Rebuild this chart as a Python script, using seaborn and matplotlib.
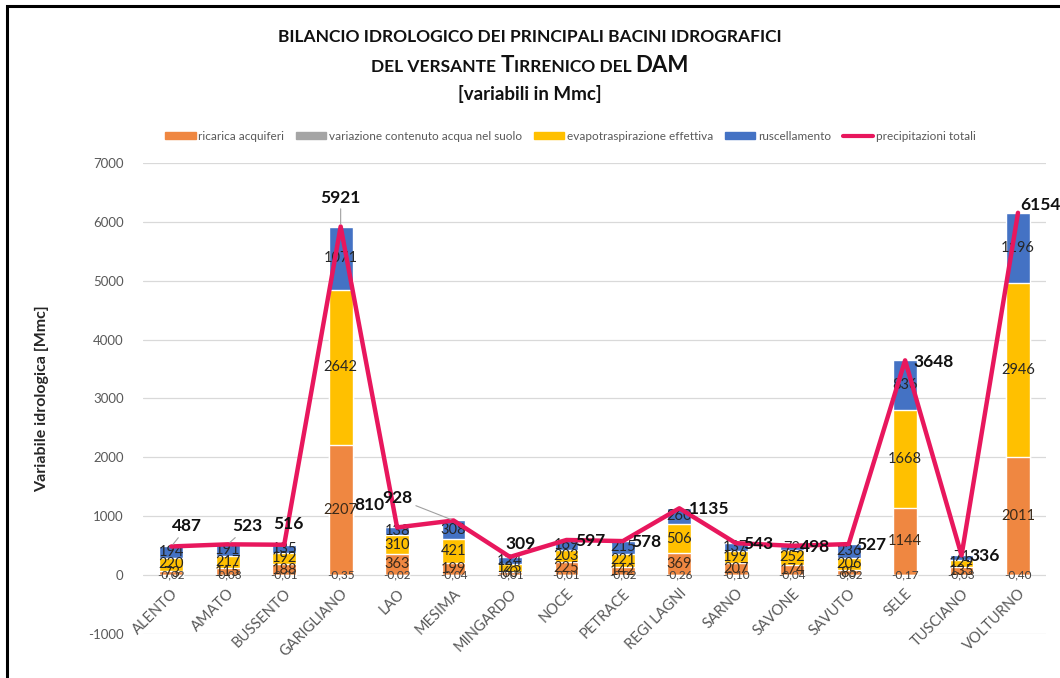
import numpy as np
import pandas as pd
import matplotlib
matplotlib.use("Agg")
import matplotlib.pyplot as plt
import seaborn as sns
from matplotlib.patches import Patch, Rectangle
from matplotlib.lines import Line2D

# data (Mmc)
bacini = ["ALENTO", "AMATO", "BUSSENTO", "GARIGLIANO", "LAO", "MESIMA", "MINGARDO", "NOCE",
          "PETRACE", "REGI LAGNI", "SARNO", "SAVONE", "SAVUTO", "SELE", "TUSCIANO", "VOLTURNO"]
ricarica = [73, 115, 188, 2207, 363, 199, 60, 225, 142, 369, 207, 174, 85, 1144, 135, 2011]
variazione = [-0.02, -0.03, -0.01, -0.35, -0.02, -0.04, -0.01, -0.01, -0.02, -0.26, -0.10, -0.04,
              -0.02, -0.17, -0.03, -0.40]
evapotrasp = [220, 217, 192, 2642, 310, 421, 125, 203, 221, 506, 199, 252, 206, 1668, 129, 2946]
ruscellamento = [194, 191, 135, 1071, 138, 308, 124, 169, 215, 260, 137, 72, 236, 836, 71, 1196]
precipitazioni = [487, 523, 516, 5921, 810, 928, 309, 597, 578, 1135, 543, 498, 527, 3648, 336, 6154]

# label offsets (pixels) for the precipitation labels
lab_dx = [16, 20, 4, 0, -28, -56, 11, 24, 23, 30, 23, 23, 23, 28, 23, 22]
lab_dy = [20, 18, 21, 29, 22, 22, 13, -1, -1, -1, -1, -1, -1, -2, -1, 8]
leader = [True, True, False, True, False, True] + [False] * 10

df = pd.DataFrame({"bacino": bacini, "ricarica": ricarica, "variazione": variazione,
                   "evapo": evapotrasp, "rusc": ruscellamento, "prec": precipitazioni})
df["c_ric"] = df["ricarica"]
df["c_evap"] = df["ricarica"] + df["evapo"]
df["c_rusc"] = df["c_evap"] + df["rusc"]

C_RIC = "#EF8741"
C_VAR = "#A5A5A5"
C_EVA = "#FFC000"
C_RUS = "#4472C4"
C_LIN = "#E8175D"
TXT = "#595959"

sns.set_theme(style="white")
plt.rcParams["font.family"] = ["Lato", "DejaVu Sans"]
plt.rcParams["axes.unicode_minus"] = False

fig = plt.figure(figsize=(10.6, 6.78), dpi=100)
ax = fig.add_axes([0.135, 0.0649, 0.852, 0.6947])

# stacked bars: draw cumulative heights back to front
w = 0.42
sns.barplot(data=df, x="bacino", y="c_rusc", color=C_RUS, width=w, saturation=1, ax=ax, zorder=2)
sns.barplot(data=df, x="bacino", y="c_evap", color=C_EVA, width=w, saturation=1, ax=ax, zorder=2)
sns.barplot(data=df, x="bacino", y="c_ric", color=C_RIC, width=w, saturation=1, ax=ax, zorder=2)
sns.barplot(data=df, x="bacino", y="variazione", color=C_VAR, width=w, saturation=1, ax=ax, zorder=2)

xs = np.arange(len(bacini))
sns.lineplot(x=xs, y=df["prec"], color=C_LIN, lw=3.2, ax=ax, sort=False, zorder=4)

# segment labels
for i in xs:
    r, e, u = ricarica[i], evapotrasp[i], ruscellamento[i]
    ax.text(i, r / 2, f"{r}", ha="center", va="center", fontsize=10.5, color="#3a2a1a", zorder=3)
    ax.text(i, r + e / 2, f"{e}", ha="center", va="center", fontsize=10.5, color="#262626", zorder=3)
    ax.text(i, r + e + u / 2, f"{u}", ha="center", va="center", fontsize=10.5, color="#262626", zorder=3)
    ax.text(i, 0, f"{variazione[i]:.2f}".replace(".", ","), ha="center", va="center",
            fontsize=8.5, color="#404040", zorder=3)

# precipitation labels
for i in xs:
    ann = dict(arrowstyle="-", color="#A0A0A0", lw=0.8, shrinkA=0, shrinkB=2) if leader[i] else None
    ax.annotate(f"{precipitazioni[i]}", xy=(i, precipitazioni[i]),
                xytext=(lab_dx[i], lab_dy[i]), textcoords="offset pixels",
                ha="center", va="center", fontsize=12.5, fontweight="bold", color="#111111",
                arrowprops=ann, zorder=5, annotation_clip=False)

ax.set_ylim(-1000, 7000)
ax.set_xlim(-0.5, len(bacini) - 0.5)
ax.set_yticks(range(-1000, 7001, 1000))
ax.yaxis.grid(True, color="#D9D9D9", lw=0.9)
ax.set_axisbelow(True)
# category axis crosses at zero, as in the reference
ax.spines["bottom"].set_position(("data", 0))
for s in ax.spines.values():
    s.set_visible(False)
ax.tick_params(axis="y", length=0, labelsize=9.5, labelcolor=TXT, pad=14)
ax.tick_params(axis="x", length=0, labelsize=10.5, labelcolor=TXT, pad=8)
ax.set_xlabel("")
ax.set_ylabel("Variabile idrologica [Mmc]", fontsize=11.5, fontweight="bold", color="#262626",
              labelpad=28)
plt.setp(ax.get_xticklabels(), rotation=45, ha="right", rotation_mode="anchor")

# title
fig.text(0.5, 1 - 37 / 678, "BILANCIO IDROLOGICO DEI PRINCIPALI BACINI IDROGRAFICI",
         ha="center", va="center", fontsize=12.5, fontweight="bold", color="#111111")
# second line in small caps: pieces of different size on one baseline
pieces = [("DEL VERSANTE ", 12.5), ("T", 16), ("IRRENICO DEL ", 12.5), ("DAM", 16)]
base_y = 1 - 72 / 678
texts = [fig.text(0, base_y, s, ha="left", va="baseline", fontsize=fs, fontweight="bold",
                  color="#111111") for s, fs in pieces]
fig.canvas.draw()
r = fig.canvas.get_renderer()
widths = [t.get_window_extent(r).width for t in texts]
x0 = (1060 - sum(widths)) / 2
for t, wd in zip(texts, widths):
    t.set_x(x0 / 1060)
    x0 += wd
fig.text(0.5, 1 - 94 / 678, "[variabili in Mmc]",
         ha="center", va="center", fontsize=13.5, fontweight="bold", color="#111111")

# legend
handles = [Patch(color=C_RIC, label="ricarica acquiferi"),
           Patch(color=C_VAR, label="variazione contenuto acqua nel suolo"),
           Patch(color=C_EVA, label="evapotraspirazione effettiva"),
           Patch(color=C_RUS, label="ruscellamento"),
           Line2D([], [], color=C_LIN, lw=3, label="precipitazioni totali")]
fig.legend(handles=handles, loc="center", bbox_to_anchor=(0.538, 1 - 136 / 678), ncol=5,
           frameon=False, fontsize=8.5, handlelength=2.6, handleheight=0.5, columnspacing=1.0,
           handletextpad=0.2, labelcolor=TXT)

# outer frame (only left/top visible in the reference crop)
fig.patches.append(Rectangle((7 / 1060, -0.1), 1.2, 1.1 - 6 / 678, transform=fig.transFigure,
                             fill=False, edgecolor="black", lw=2.2, zorder=10))

fig.savefig("out.png", dpi=100)
